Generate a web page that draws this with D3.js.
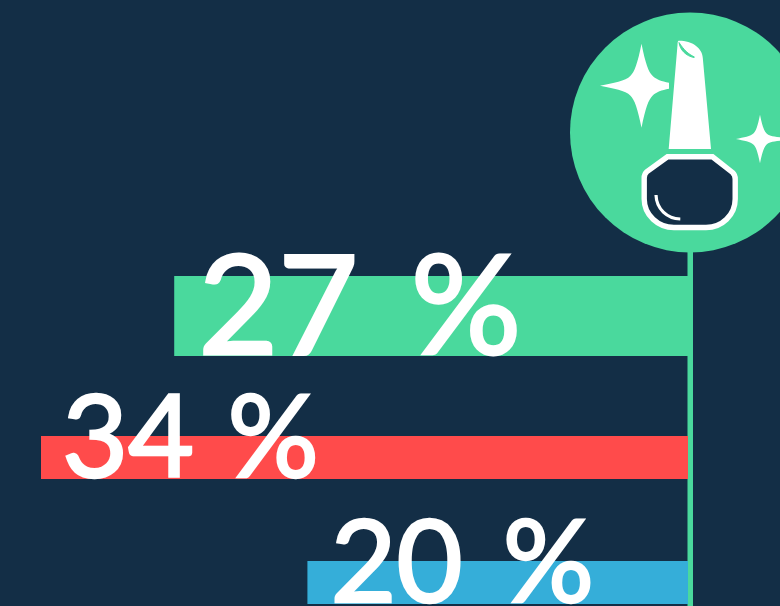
<!DOCTYPE html>
<html>
<head>
<meta charset="utf-8">
<script src="https://cdn.jsdelivr.net/npm/d3@7"></script>
<style>
  html, body { margin: 0; padding: 0; background: #132e46; overflow: hidden; }
  svg { display: block; }
  text { font-family: "Lato", sans-serif; fill: #fff; stroke: #fff; }
</style>
</head>
<body>
<svg id="chart"></svg>
<script>
const values = [27, 34, 20];
const numbers = ["27", "34", "20"];
const unit = "%";
const colors = ["#4ad99d", "#ff4b4b", "#35aed9"];

// layout of the rows, the first one is drawn bigger than the others
const barTops = [276, 436, 561];
const barHeights = [80, 43, 43];
const fontSizes = [138, 114, 114];
const strokeWidths = [3, 2.6, 2.6];
const labelOffsets = [24, 21, 23];
const unitGaps = [17, 4, 11];

const width = 780;
const height = 606;
const axisX = 688;

const svg = d3.select("#chart").attr("width", width).attr("height", height);

const x = d3.scaleLinear().domain([0, 34]).range([axisX, 41]);

// stem
svg.append("rect")
  .attr("x", 687.5)
  .attr("y", 240)
  .attr("width", 5.5)
  .attr("height", height - 240)
  .attr("fill", colors[0]);

svg.append("g")
  .selectAll("rect")
  .data(values)
  .enter()
  .append("rect")
  .attr("x", d => x(d))
  .attr("y", (d, i) => barTops[i])
  .attr("width", d => axisX - x(d))
  .attr("height", (d, i) => barHeights[i])
  .attr("fill", (d, i) => colors[i]);

const labels = svg.append("g")
  .selectAll("text")
  .data(values)
  .enter()
  .append("text")
  .attr("x", (d, i) => x(d) + labelOffsets[i])
  .attr("y", (d, i) => barTops[i] + barHeights[i] - 2)
  .attr("font-size", (d, i) => fontSizes[i])
  .attr("stroke-width", (d, i) => strokeWidths[i]);

labels.append("tspan").text((d, i) => numbers[i] + " ");
labels.append("tspan")
  .attr("dx", (d, i) => unitGaps[i])
  .text(unit);

// icon
const icon = svg.append("g");

icon.append("circle")
  .attr("cx", 690)
  .attr("cy", 132.5)
  .attr("r", 120)
  .attr("fill", colors[0]);

// four pointed star, s = 1 is the big one; the right arm stops at "right"
function star(cx, cy, s, right) {
  const p = (a, b) => `${cx + a * s},${cy + b * s}`;
  const r = right / s;
  return `M${p(-41.5, 0)}
    C${p(-28, -3)} ${p(-16, -4.5)} ${p(-11, -10)}
    C${p(-7, -14)} ${p(-4, -22)} ${p(0, -42)}
    C${p(4, -22)} ${p(7, -14)} ${p(11, -10)}
    C${p(15, -6)} ${p(20, -4.5)} ${p(r, -3)}
    L${p(r, 3)}
    C${p(20, 4.5)} ${p(15, 6)} ${p(11, 10)}
    C${p(7, 14)} ${p(4, 22)} ${p(0, 42)}
    C${p(-4, 22)} ${p(-7, 14)} ${p(-11, 10)}
    C${p(-16, 4.5)} ${p(-28, 3)} ${p(-41.5, 0)}Z`;
}

icon.append("path")
  .attr("d", star(641.5, 85.7, 1, 27.5))
  .attr("fill", "#fff");

icon.append("path")
  .attr("d", star(760, 139, 0.58, 21))
  .attr("fill", "#fff");

// brush
icon.append("path")
  .attr("d", "M678.5,40.7 C692,40.5 702.5,48 702.8,58 L711,149 L668.7,149 L677.5,45 Q677.5,41 678.5,40.7Z")
  .attr("fill", "#fff");

icon.append("path")
  .attr("d", "M679,42.5 C684,50 688,54 694.5,57 L694,57.5 C686,56 680,50 679,42.5Z")
  .attr("fill", colors[0])
  .attr("stroke", colors[0])
  .attr("stroke-width", 1);

// bottle
icon.append("path")
  .attr("d", "M667.5,156.8 L712.5,156.8 L732.5,172.5 Q735.2,175 735.2,179 L735.2,199 C735.2,215 722,227.5 706,227.5 L674,227.5 C658,227.5 644.2,215 644.2,199 L644.2,178 Q644.2,174 647,171.5Z")
  .attr("fill", "#132e46")
  .attr("stroke", "#fff")
  .attr("stroke-width", 5.4);

icon.append("path")
  .attr("d", "M656,195 C656.5,209 667,218.5 680.3,219")
  .attr("fill", "none")
  .attr("stroke", "#fff")
  .attr("stroke-width", 3.2);
</script>
</body>
</html>
